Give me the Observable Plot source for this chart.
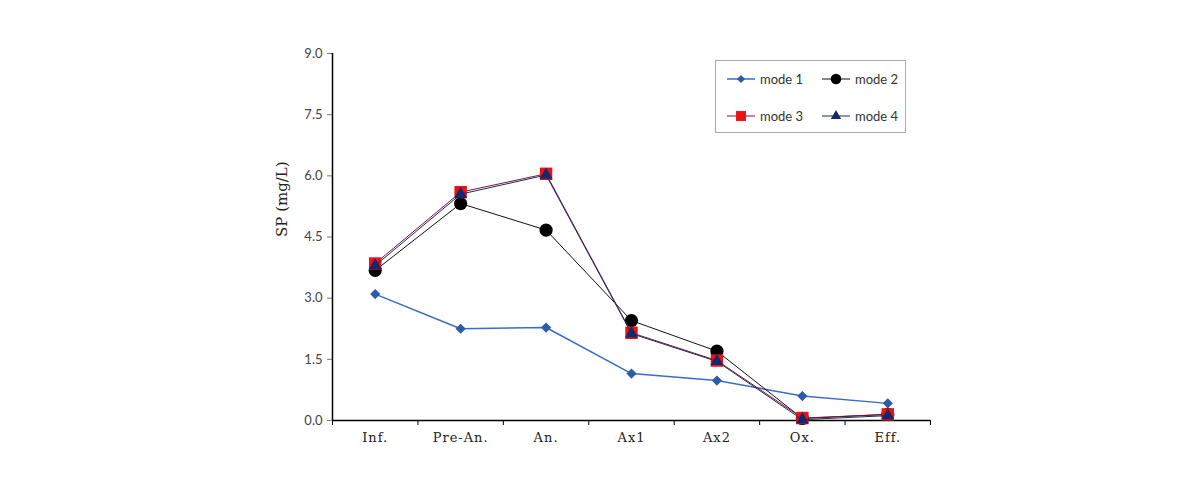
<!DOCTYPE html>
<html>
<head>
<meta charset="utf-8">
<script src="https://cdn.jsdelivr.net/npm/d3@7"></script>
<script src="https://cdn.jsdelivr.net/npm/@observablehq/plot@0.6"></script>
<style>
  body { margin: 0; background: #fff; }
  #wrap { position: relative; width: 1190px; height: 504px; }
  #legend { position: absolute; left: 715px; top: 60px; width: 189px; height: 71px;
            border: 1px solid #aaa; background: #fff; font-family: Lato, "Open Sans", sans-serif;
            font-size: 13px; color: #333; }
  .item { position: absolute; display: flex; align-items: center; }
  .item svg { margin-right: 5px; }
  g[aria-label="x-axis tick label"] text { letter-spacing: 1px; }
</style>
</head>
<body>
<div id="wrap"></div>
<script>
const categories = ["Inf.", "Pre-An.", "An.", "Ax1", "Ax2", "Ox.", "Eff."];
const mode1 = [3.10, 2.25, 2.28, 1.15, 0.98, 0.60, 0.42];
const mode2 = [3.68, 5.32, 4.67, 2.45, 1.70, 0.05, 0.15];
const mode3 = [3.85, 5.60, 6.05, 2.15, 1.47, 0.06, 0.15];
const mode4 = [3.80, 5.55, 6.02, 2.13, 1.45, 0.02, 0.12];
const seriesNames = ["mode 1", "mode 2", "mode 3", "mode 4"];
const yTicks = [0, 1.5, 3.0, 4.5, 6.0, 7.5, 9.0];
const yLabel = "SP (mg/L)";

const styles = {
  "mode 1": {line: "#3b6cc7", fill: "#2e5ba8", symbol: "diamond2", r: 4.6, sw: 1.5},
  "mode 2": {line: "#111111", fill: "#000000", symbol: "circle", r: 6.6, sw: 1},
  "mode 3": {line: "#7a1a2e", fill: "#ee1111", symbol: "square", r: 7.0, sw: 1},
  "mode 4": {line: "#1b2a66", fill: "#14286e", symbol: "triangle", r: 4.8, sw: 1}
};

const allSeries = [mode1, mode2, mode3, mode4];
const rows = [];
allSeries.forEach((vals, s) => vals.forEach((v, i) => rows.push({series: seriesNames[s], i: i + 0.5, cat: categories[i], v})));

const marks = [];
for (const name of seriesNames) {
  const st = styles[name];
  const data = rows.filter(d => d.series === name);
  marks.push(Plot.line(data, {x: "i", y: "v", stroke: st.line, strokeWidth: st.sw}));
  marks.push(Plot.dot(data, {x: "i", y: "v", symbol: () => st.symbol, fill: st.fill, stroke: "none", r: st.r}));
}

const chart = Plot.plot({
  width: 1190, height: 504,
  marginLeft: 332, marginRight: 260, marginTop: 53, marginBottom: 84,
  x: {domain: [0, categories.length]},
  y: {domain: [0, 9]},
  marks: [
    Plot.axisY({ticks: yTicks, tickFormat: d => d.toFixed(1), tickSize: 5, tickPadding: 5,
      fontFamily: "Lato, 'Open Sans', sans-serif", fontSize: 13, color: "#444", stroke: "#777", label: null}),
    Plot.axisX({ticks: d3.range(categories.length + 1), tickFormat: () => "", tickSize: 5, stroke: "#000", label: null}),
    Plot.axisX({ticks: d3.range(categories.length).map(i => i + 0.5), tickFormat: t => categories[Math.floor(t)],
      tickSize: 0, tickPadding: 12, fontFamily: "'DejaVu Serif', 'Liberation Serif', serif", fontSize: 13, color: "#222", label: null}),
    Plot.ruleX([0], {stroke: "#000", strokeWidth: 1.5}),
    Plot.ruleY([0], {stroke: "#000", strokeWidth: 1.5}),
    Plot.text([yLabel], {frameAnchor: "left", dx: -50, rotate: -90, fontFamily: "'DejaVu Serif', 'Liberation Serif', serif", fontSize: 15, fill: "#222"}),
    ...marks
  ]
});

const wrap = document.getElementById("wrap");
wrap.appendChild(chart);

// Legend
const legend = document.createElement("div");
legend.id = "legend";
const pos = [[11, 10], [106, 10], [11, 47], [106, 47]];
seriesNames.forEach((name, k) => {
  const st = styles[name];
  const item = document.createElement("div");
  item.className = "item";
  item.style.left = pos[k][0] + "px";
  item.style.top = pos[k][1] + "px";
  const sym = d3.symbol().type({diamond2: d3.symbolDiamond2, circle: d3.symbolCircle, square: d3.symbolSquare, triangle: d3.symbolTriangle}[st.symbol]).size(Math.PI * (st.r * 0.8) ** 2)();
  item.innerHTML = `<svg width="28" height="16"><line x1="0" y1="8" x2="28" y2="8" stroke="${st.line}" stroke-width="${st.sw}"/><path transform="translate(14,8)" d="${sym}" fill="${st.fill}"/></svg><span>${name}</span>`;
  legend.appendChild(item);
});
wrap.appendChild(legend);
</script>
</body>
</html>
